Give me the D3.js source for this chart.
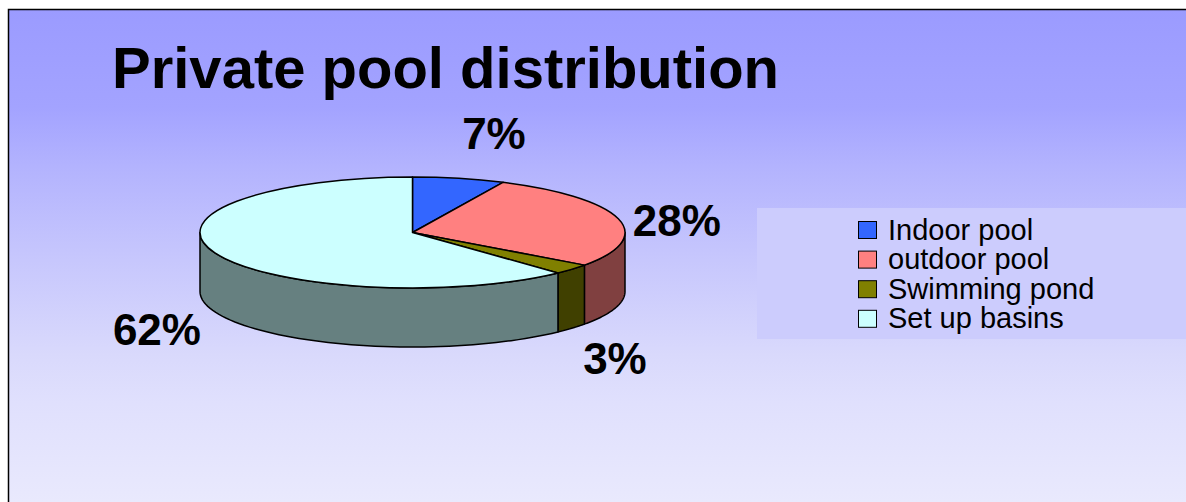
<!DOCTYPE html>
<html><head><meta charset="utf-8">
<script src="https://cdn.jsdelivr.net/npm/d3@7"></script>
<style>html,body{margin:0;padding:0;background:#fff;}svg{display:block;}</style>
</head><body>
<svg id="chart" width="1186" height="502"></svg>
<script>
const title = "Private pool distribution";
const categories = ["Indoor pool", "outdoor pool", "Swimming pond", "Set up basins"];
const values = [7, 28, 3, 62];
const topColors = ["#3366ff", "#ff8080", "#808000", "#ccffff"];
const sideColors = ["#1a3380", "#804040", "#404000", "#668080"];

const W = 1186, H = 502;
const svg = d3.select("#chart");
const defs = svg.append("defs");
const grad = defs.append("linearGradient").attr("id","bg")
  .attr("gradientUnits","userSpaceOnUse").attr("x1",0).attr("y1",9).attr("x2",0).attr("y2",502);
[[0,"#9b9bff"],[0.2,"#a3a3ff"],[0.32,"#b3b3fe"],[0.5,"#c6c6fd"],[0.7,"#d9d9fc"],[0.8,"#e0e0fd"],[1,"#e9e9fd"]]
  .forEach(([o,c]) => grad.append("stop").attr("offset",o).attr("stop-color",c));

svg.append("rect").attr("x",8.5).attr("y",9.5).attr("width",W).attr("height",H)
  .attr("fill","url(#bg)").attr("stroke","#000").attr("stroke-width",1.5);

// title
svg.append("text").attr("x",112).attr("y",88)
  .attr("font-family","'Liberation Sans', Arial, sans-serif").attr("font-weight","bold")
  .attr("font-size",58).attr("fill","#000").text(title);

// 3D pie geometry
const cx = 412.5, cy = 232.5, rx = 212.5, ry = 55.5, depth = 59;
const pie = d3.pie().sort(null).value(d => d)(values);
const color = d3.scaleOrdinal().domain(categories).range(topColors);
const sideColor = d3.scaleOrdinal().domain(categories).range(sideColors);
const pt = (a, dy=0) => [cx + rx*Math.sin(a), cy - ry*Math.cos(a) + dy];

const g = svg.append("g");
// sides (visible front half: angle in [PI/2, 3PI/2])
pie.forEach((p, i) => {
  const a0 = Math.max(p.startAngle, Math.PI/2), a1 = Math.min(p.endAngle, 3*Math.PI/2);
  if (a1 <= a0) return;
  const n = 60, path = d3.path();
  let s = pt(a0); path.moveTo(s[0], s[1]);
  for (let k=1;k<=n;k++){ const q = pt(a0+(a1-a0)*k/n); path.lineTo(q[0],q[1]); }
  for (let k=n;k>=0;k--){ const q = pt(a0+(a1-a0)*k/n, depth); path.lineTo(q[0],q[1]); }
  path.closePath();
  g.append("path").attr("d", path.toString()).attr("fill", sideColor(categories[i]))
    .attr("stroke","#000").attr("stroke-width",1.5).attr("stroke-linejoin","round");
});
// tops via d3.arc, squashed
const arc = d3.arc().innerRadius(0).outerRadius(rx);
const topG = g.append("g").attr("transform",`translate(${cx},${cy}) scale(1,${ry/rx})`);
topG.selectAll("path").data(pie).join("path")
  .attr("d", arc).attr("fill", (d,i) => color(categories[i]))
  .attr("stroke","#000").attr("stroke-width",1.5).attr("vector-effect","non-scaling-stroke")
  .attr("stroke-linejoin","round");

// percent labels
const total = d3.sum(values);
const fmt = d3.format(".0%");
const lblSize = 44;
pie.forEach((p, i) => {
  const a = (p.startAngle + p.endAngle)/2, s = Math.sin(a), c = Math.cos(a);
  const txt = fmt(p.value/total);
  const t = svg.append("text").attr("font-family","'Liberation Sans', Arial, sans-serif")
    .attr("font-weight","bold").attr("font-size",lblSize).attr("fill","#000").text(txt);
  const w = t.node().getComputedTextLength(), h = lblSize*0.75;
  const dTerm = c < 0 ? depth : depth*(1-c)*0.3;
  const x = cx + (rx+15)*s + Math.sign(s)*w/2;
  const y = cy - (ry+30)*c + dTerm - c*h/2;
  t.attr("x", x).attr("y", y + h/2 - 1).attr("text-anchor","middle");
});

// legend
svg.append("rect").attr("x",757).attr("y",208).attr("width",W-757).attr("height",131).attr("fill","#ccccfd");
const lg = svg.append("g").selectAll("g").data(categories).join("g")
  .attr("transform",(d,i)=>`translate(858,${221 + i*29.6})`);
lg.append("rect").attr("x",0.5).attr("y",0.5).attr("width",18).attr("height",17)
  .attr("fill", d => color(d)).attr("stroke","#000").attr("stroke-width",1);
lg.append("text").attr("x",30).attr("y",18.5)
  .attr("font-family","'Liberation Sans', Arial, sans-serif").attr("font-size",29).attr("fill","#000")
  .text(d => d);
</script>
</body></html>
